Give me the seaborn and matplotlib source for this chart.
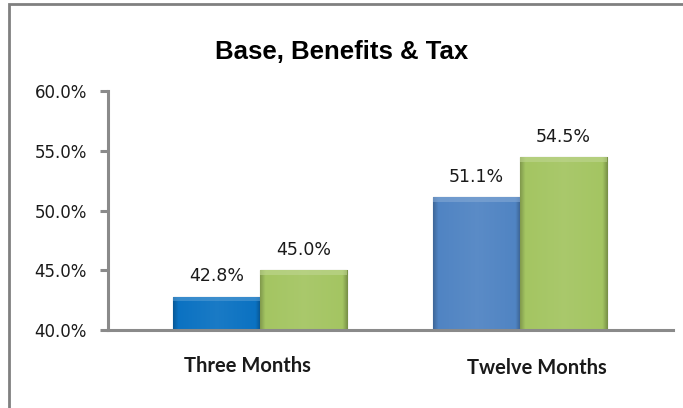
import matplotlib
matplotlib.use("Agg")
import matplotlib.pyplot as plt
import matplotlib.transforms as mtransforms
import seaborn as sns
import pandas as pd
import numpy as np
from matplotlib.patches import Rectangle
from matplotlib.colors import LinearSegmentedColormap, to_rgb

categories = ["Three Months", "Twelve Months"]
series = ["Series 1", "Series 2"]
values_s1 = [42.8, 51.1]
values_s2 = [45.0, 54.5]
yticks = [40, 45, 50, 55, 60]
title = "Base, Benefits & Tax"

bar_colors = {("Series 1", 0): "#0B72C2", ("Series 1", 1): "#5084C3",
              ("Series 2", 0): "#A4C562", ("Series 2", 1): "#A4C562"}

df = pd.DataFrame({
    "category": categories * 2,
    "series": [series[0]] * 2 + [series[1]] * 2,
    "value": values_s1 + values_s2,
})

sns.set_theme(style="white")
plt.rcParams["font.family"] = ["DejaVu Sans"]

fig = plt.figure(figsize=(6.83, 4.08), dpi=100)
ax = fig.add_axes([0.158, 0.191, 0.827, 0.586])

YMIN, YMAX = 40, 60
XLIM = (-0.585, 1.588)

sns.barplot(data=df, x="category", y="value", hue="series", order=categories,
            hue_order=series, palette=["#5084C3", "#A4C562"], width=0.67,
            gap=0, legend=False, ax=ax, saturation=1)


def shade(c, f):
    r = np.array(to_rgb(c))
    if f >= 0:
        return tuple(r + (1 - r) * f)
    return tuple(r * (1 + f))


for i, container in enumerate(ax.containers):
    s = series[i]
    for j, p in enumerate(container.patches):
        col = bar_colors[(s, j)]
        p.set_facecolor(col)
        p.set_edgecolor(shade(col, -0.4))
        p.set_linewidth(0.8)
        x0, y0 = p.get_x(), p.get_y()
        w, h = p.get_width(), p.get_height()
        top = y0 + h
        ylo = max(y0, YMIN)
        cmap = LinearSegmentedColormap.from_list(
            "g", [(0.0, shade(col, -0.22)), (0.06, col), (0.5, shade(col, 0.06)),
                  (0.94, col), (1.0, shade(col, -0.28))])
        grad = np.linspace(0, 1, 256).reshape(1, -1)
        im = ax.imshow(grad, extent=[x0, x0 + w, ylo, top], aspect="auto",
                       cmap=cmap, zorder=p.get_zorder() + 0.1, origin="lower")
        im.set_clip_path(p)
        # top bevel highlight
        ax.add_patch(Rectangle((x0, top - 0.4), w, 0.4,
                               facecolor=shade(col, 0.3), edgecolor="none",
                               alpha=0.6, zorder=p.get_zorder() + 0.2))
    ax.bar_label(container, labels=[f"{v:.1f}%" for v in container.datavalues],
                 padding=8, fontsize=12.5, color="#1a1a1a")

ax.set_ylim(YMIN, YMAX)
ax.set_xlim(*XLIM)
ax.set_yticks(yticks)
ax.set_yticklabels([f"{t:.1f}%" for t in yticks], fontsize=12, color="#1a1a1a")
ax.set_xticks([0, 1])
ax.set_xticklabels(categories)
ax.set_xlabel("")
ax.set_ylabel("")
ax.tick_params(axis="x", length=0, pad=19)
label_shift = [(-13, 0), (17, -2)]
for lbl, (dx, dy) in zip(ax.get_xticklabels(), label_shift):
    lbl.set_fontfamily(["Lato", "DejaVu Sans"])
    lbl.set_fontweight("bold")
    lbl.set_fontsize(14.5)
    lbl.set_color("#1a1a1a")
    lbl.set_transform(lbl.get_transform() +
                      mtransforms.ScaledTranslation(dx / 100, dy / 100, fig.dpi_scale_trans))
ax.tick_params(axis="y", length=6, width=2.2, color="#8a8a8a", direction="out",
               left=True, pad=9)

for side in ["top", "right"]:
    ax.spines[side].set_visible(False)
for side in ["left", "bottom"]:
    ax.spines[side].set_color("#8a8a8a")
    ax.spines[side].set_linewidth(2.2)
    ax.spines[side].set_zorder(5)

fig.text(0.5, 0.872, title, ha="center", va="center", fontsize=18.5,
         fontweight="bold", fontfamily=["Liberation Sans", "DejaVu Sans"],
         color="black")

# outer chart frame
fig.add_artist(Rectangle((9 / 683, -0.1), 1.2, 1 - 4 / 408 + 0.1,
                         transform=fig.transFigure, fill=False,
                         edgecolor="#808080", linewidth=2))

fig.savefig("out.png", dpi=100)
